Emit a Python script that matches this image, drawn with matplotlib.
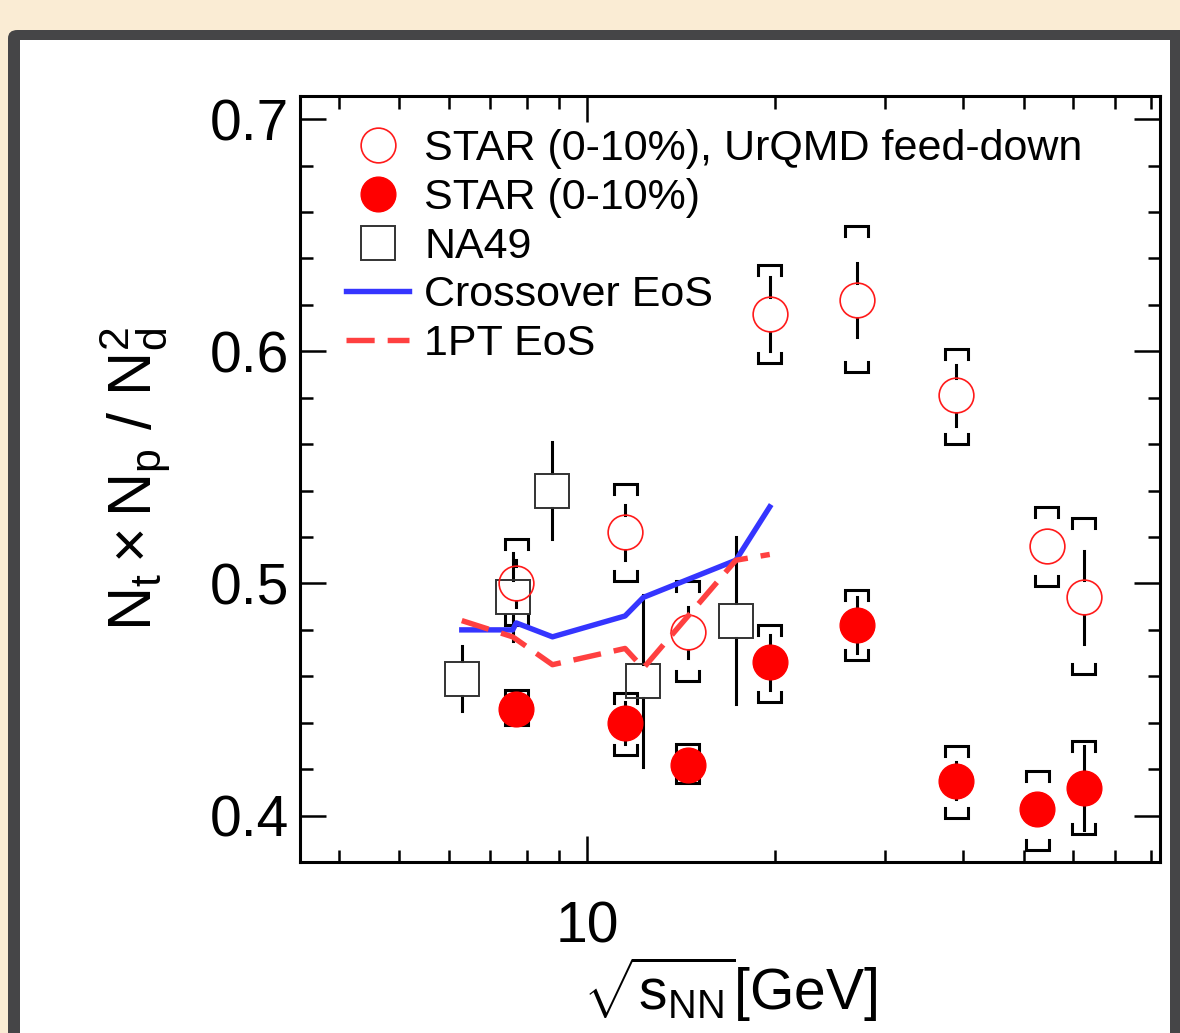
import matplotlib
matplotlib.use('Agg')
import matplotlib.pyplot as plt
import numpy as np
from matplotlib.patches import FancyBboxPatch, Rectangle
from matplotlib.ticker import FixedLocator, NullFormatter, FixedFormatter, MultipleLocator, FormatStrFormatter
from matplotlib.lines import Line2D

plt.rcParams['font.family'] = ['Liberation Sans', 'DejaVu Sans']
plt.rcParams['mathtext.fontset'] = 'custom'
plt.rcParams['mathtext.rm'] = 'Liberation Sans'
plt.rcParams['mathtext.it'] = 'Liberation Sans'
plt.rcParams['mathtext.bf'] = 'Liberation Sans:bold'
plt.rcParams['mathtext.sf'] = 'Liberation Sans'

# ---------------- data ----------------
star_fd_energy = [7.7, 11.5, 14.5, 19.6, 27, 39, 54.4, 62.4]
star_fd_ratio = [0.500, 0.522, 0.479, 0.616, 0.622, 0.581, 0.516, 0.494]
star_fd_stat = [0.010, 0.012, 0.011, 0.016, 0.016, 0.013, 0.0, 0.020]
star_fd_sys_hi = [0.519, 0.543, 0.501, 0.637, 0.654, 0.601, 0.533, 0.528]
star_fd_sys_lo = [0.482, 0.501, 0.458, 0.595, 0.591, 0.560, 0.499, 0.461]

star_energy = [7.7, 11.5, 14.5, 19.6, 27, 39, 52.5, 62.4]
star_ratio = [0.446, 0.440, 0.422, 0.466, 0.482, 0.415, 0.403, 0.412]
star_stat = [0.003, 0.009, 0.003, 0.012, 0.012, 0.008, 0.0, 0.018]
star_sys_hi = [0.454, 0.453, 0.431, 0.482, 0.497, 0.430, 0.419, 0.432]
star_sys_lo = [0.439, 0.426, 0.414, 0.449, 0.467, 0.399, 0.385, 0.392]

na49_energy = [6.3, 7.6, 8.8, 12.3, 17.3]
na49_ratio = [0.459, 0.494, 0.540, 0.458, 0.484]
na49_stat = [0.014, 0.019, 0.021, 0.037, 0.036]

crossover_energy = [6.3, 7.6, 7.7, 8.8, 11.5, 12.3, 17.3, 19.6]
crossover_ratio = [0.480, 0.480, 0.483, 0.477, 0.486, 0.494, 0.510, 0.533]

onept_energy = [6.3, 7.6, 8.8, 11.5, 12.3, 17.3, 19.6]
onept_ratio = [0.484, 0.477, 0.465, 0.472, 0.4635, 0.510, 0.5125]

legend_labels = ['STAR (0-10%), UrQMD feed-down', 'STAR (0-10%)', 'NA49',
                 'Crossover EoS', '1PT EoS']

# ---------------- figure ----------------
W, H = 1180, 1033
fig = plt.figure(figsize=(W / 100, H / 100), dpi=100, facecolor='#faecd4')

# dark frame and white panel (pixel -> figure fraction)
frame = FancyBboxPatch((8 / W, -0.05), 1.2, (H - 30) / H + 0.05,
                       boxstyle='round,pad=0,rounding_size=0.008',
                       transform=fig.transFigure, facecolor='#454547',
                       edgecolor='none', zorder=-3)
fig.patches.append(frame)
panel = Rectangle((20 / W, -0.05), (1170 - 20) / W, (H - 40) / H + 0.05,
                  transform=fig.transFigure, facecolor='white',
                  edgecolor='none', zorder=-2)
fig.patches.append(panel)

ax = fig.add_axes([300 / W, (H - 862) / H, 860 / W, (862 - 96) / H])
ax.set_zorder(1)
ax.set_facecolor('none')
ax.set_xscale('log')
ax.set_xlim(3.47, 82.6)
ax.set_ylim(0.380, 0.710)

lw_err = 2.2
bracket_f = 10 ** (11.5 / 625.0)   # half-width factor in log space
bracket_d = 0.0043
marker_r = 0.0075                  # marker half size in data units (error bars stop at edge)


def draw_brackets(xs, his, los):
    for x, hi, lo in zip(xs, his, los):
        xl, xr = x / bracket_f, x * bracket_f
        ax.plot([xl, xl, xr, xr], [hi - bracket_d, hi, hi, hi - bracket_d],
                color='black', lw=lw_err, solid_joinstyle='miter', zorder=2)
        ax.plot([xl, xl, xr, xr], [lo + bracket_d, lo, lo, lo + bracket_d],
                color='black', lw=lw_err, solid_joinstyle='miter', zorder=2)


def draw_stat(xs, ys, errs):
    for x, y, e in zip(xs, ys, errs):
        if e > marker_r:
            ax.plot([x, x], [y + marker_r, y + e], color='black', lw=lw_err, zorder=2)
            ax.plot([x, x], [y - e, y - marker_r], color='black', lw=lw_err, zorder=2)


# systematic brackets
draw_brackets(star_fd_energy, star_fd_sys_hi, star_fd_sys_lo)
draw_brackets(star_energy, star_sys_hi, star_sys_lo)

# statistical errors
draw_stat(na49_energy, na49_ratio, na49_stat)
draw_stat(star_fd_energy, star_fd_ratio, star_fd_stat)
draw_stat(star_energy, star_ratio, star_stat)

# markers
ax.plot(na49_energy, na49_ratio, ls='none', marker='s', ms=24.5, mfc='none',
        mec='#333333', mew=1.4, zorder=3)
ax.plot(star_fd_energy, star_fd_ratio, ls='none', marker='o', ms=25, mfc='none',
        mec='#ff1a1a', mew=1.2, zorder=3)
ax.plot(star_energy, star_ratio, ls='none', marker='o', ms=25, mfc='#ff0000',
        mec='#ff0000', mew=1.0, zorder=3)

# model curves
ax.plot(crossover_energy, crossover_ratio, color='#3535ff', lw=3.9, zorder=5)
ax.plot(onept_energy, onept_ratio, color='#ff4040', lw=3.9, dashes=(5.2, 2.4), zorder=5)

# ticks
ax.xaxis.set_major_locator(FixedLocator([10, 100]))
ax.xaxis.set_major_formatter(FixedFormatter(['10', '100']))
ax.xaxis.set_minor_locator(FixedLocator([4, 5, 6, 7, 8, 9, 20, 30, 40, 50, 60, 70, 80]))
ax.xaxis.set_minor_formatter(NullFormatter())
ax.yaxis.set_major_locator(MultipleLocator(0.1))
ax.yaxis.set_minor_locator(MultipleLocator(0.02))
ax.yaxis.set_major_formatter(FormatStrFormatter('%.1f'))

ax.tick_params(which='both', direction='in', top=True, right=True, width=1.8)
ax.tick_params(which='major', length=19)
ax.tick_params(which='minor', length=9)
ax.tick_params(axis='y', which='major', labelsize=41, pad=8)
ax.tick_params(axis='x', which='major', labelsize=41, pad=28)
for s in ax.spines.values():
    s.set_linewidth(2.2)

ax.set_xlabel(r'$\sqrt{\mathrm{s}_{\mathrm{NN}}}$[GeV]', fontsize=41, labelpad=0)
ax.set_ylabel(r'$\mathrm{N_t} \times \mathrm{N_p}$ / $\mathrm{N_d^2}$', fontsize=44, labelpad=26)

# legend
handles = [
    Line2D([], [], ls='none', marker='o', ms=25, mfc='none', mec='#ff1a1a', mew=1.2),
    Line2D([], [], ls='none', marker='o', ms=25, mfc='#ff0000', mec='#ff0000'),
    Line2D([], [], ls='none', marker='s', ms=24.5, mfc='none', mec='#333333', mew=1.4),
    Line2D([], [], color='#3535ff', lw=3.9),
    Line2D([], [], color='#ff4040', lw=3.9, dashes=(5.2, 2.4)),
]
leg = ax.legend(handles, legend_labels, loc='upper left',
                bbox_to_anchor=(42 / 860, 0.962), fontsize=31, frameon=False,
                borderpad=0.1, borderaxespad=0, labelspacing=0.2,
                handlelength=1.45, handletextpad=0.36)
leg.set_zorder(1)

fig.savefig('out.png', dpi=100, facecolor=fig.get_facecolor())
